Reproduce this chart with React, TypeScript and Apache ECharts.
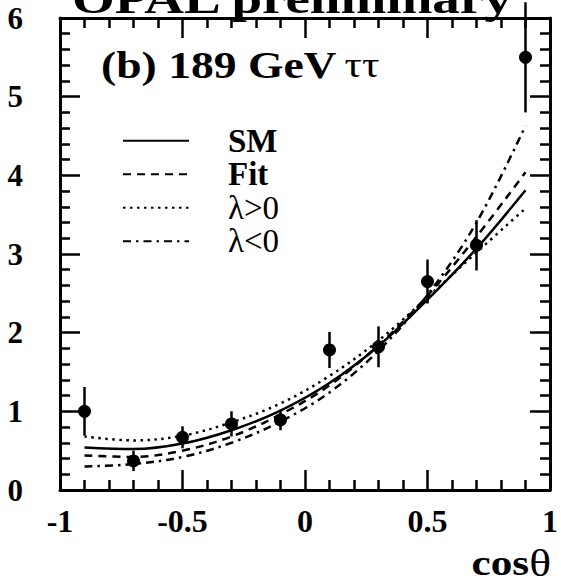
import React, { useEffect, useRef } from "react";
import * as echarts from "echarts";

// Measured data points (cos theta bins)
const cosTheta = [-0.9, -0.7, -0.5, -0.3, -0.1, 0.1, 0.3, 0.5, 0.7, 0.9];
const dataValues = [1.0, 0.37, 0.67, 0.84, 0.89, 1.78, 1.82, 2.65, 3.11, 5.5];
const dataErrors = [0.31, 0.13, 0.14, 0.16, 0.13, 0.23, 0.26, 0.28, 0.32, 0.7];

// Model curves read at the same cos theta values
const curveX = [-0.9, -0.7, -0.5, -0.3, -0.1, 0.1, 0.3, 0.5, 0.7, 0.9];
const smValues = [0.54, 0.52, 0.59, 0.76, 1.01, 1.36, 1.83, 2.42, 3.07, 3.81];
const fitValues = [0.44, 0.42, 0.5, 0.68, 0.96, 1.33, 1.84, 2.47, 3.22, 4.04];
const lamPosValues = [0.68, 0.63, 0.69, 0.86, 1.1, 1.45, 1.9, 2.45, 3.02, 3.58];
const lamNegValues = [0.3, 0.33, 0.42, 0.6, 0.87, 1.24, 1.77, 2.48, 3.4, 4.63];

const seriesNames = ["SM", "Fit", "λ>0", "λ<0"];

const SERIF = "'Liberation Serif', 'Times New Roman', serif";

function pair(xs: number[], ys: number[]) {
  return xs.map((x, i) => [x, ys[i]]);
}

export default function App() {
  const ref = useRef<HTMLDivElement>(null);

  useEffect(() => {
    if (!ref.current) return;
    const chart = echarts.init(ref.current, null, { renderer: "svg" });

    const axisCommon = {
      type: "value" as const,
      splitLine: { show: false },
      axisLine: { show: true, onZero: false, lineStyle: { color: "#000", width: 3 } },
      axisTick: { show: true, inside: true, length: 20, lineStyle: { color: "#000", width: 2.5 } },
      minorTick: { show: true, splitNumber: 5, length: 10, lineStyle: { color: "#000", width: 2.5 } },
    };

    const labelStyle = {
      fontFamily: SERIF,
      fontWeight: "bold" as const,
      fontSize: 32,
      color: "#000",
    };

    const lineSeries = (name: string, ys: number[], type: any) => ({
      name,
      type: "line",
      data: pair(curveX, ys),
      smooth: 0.35,
      symbol: "none",
      showSymbol: false,
      itemStyle: { color: "#000" },
      lineStyle: { color: "#000", width: 2.5, type },
      z: 2,
    });

    chart.setOption({
      animation: false,
      backgroundColor: "#fff",
      grid: { left: 60, right: 11, top: 18, bottom: 94, containLabel: false },
      xAxis: [
        {
          ...axisCommon,
          min: -1,
          max: 1,
          interval: 0.5,
          position: "bottom",
          axisLabel: { ...labelStyle, margin: 15 },
        },
        {
          ...axisCommon,
          min: -1,
          max: 1,
          interval: 0.5,
          position: "top",
          axisLabel: { show: false },
        },
      ],
      yAxis: [
        {
          ...axisCommon,
          min: 0,
          max: 6,
          interval: 1,
          position: "left",
          axisLabel: { ...labelStyle, fontSize: 31, margin: 37 },
        },
        {
          ...axisCommon,
          min: 0,
          max: 6,
          interval: 1,
          position: "right",
          axisLabel: { show: false },
        },
      ],
      legend: {
        data: seriesNames,
        orient: "vertical",
        left: 117,
        top: 119,
        itemWidth: 66,
        itemHeight: 20,
        itemGap: 0,
        selectedMode: false,
        itemStyle: { opacity: 0 },
        formatter: (name: string) =>
          name === "SM" || name === "Fit" ? `{b|${name}}` : `{n|${name}}`,
        textStyle: {
          color: "#000",
          fontFamily: SERIF,
          fontSize: 32,
          lineHeight: 33.5,
          padding: [0, 0, 0, 34],
          rich: {
            b: { fontFamily: SERIF, fontWeight: "bold", fontSize: 33, color: "#000", lineHeight: 33.5 },
            n: { fontFamily: SERIF, fontWeight: "normal", fontSize: 33, color: "#000", lineHeight: 33.5 },
          },
        },
      },
      series: [
        lineSeries("SM", smValues, "solid"),
        lineSeries("Fit", fitValues, [8, 6]),
        lineSeries("λ>0", lamPosValues, [2.5, 4.5]),
        lineSeries("λ<0", lamNegValues, [8, 5, 2.5, 5]),
        {
          name: "errors",
          type: "custom",
          clip: false,
          data: cosTheta.map((x, i) => [x, dataValues[i], dataErrors[i]]),
          renderItem: (params: any, api: any) => {
            const x = api.value(0);
            const y = api.value(1);
            const e = api.value(2);
            const p1 = api.coord([x, y + e]);
            const p2 = api.coord([x, y - e]);
            return {
              type: "line",
              shape: { x1: p1[0], y1: p1[1], x2: p2[0], y2: p2[1] },
              style: { stroke: "#000", lineWidth: 2.5 },
            };
          },
          z: 3,
        },
        {
          name: "data",
          type: "scatter",
          data: pair(cosTheta, dataValues),
          symbol: "circle",
          symbolSize: 13,
          itemStyle: { color: "#000", opacity: 1 },
          z: 4,
        },
      ],
      graphic: [
        {
          type: "text",
          x: 72,
          y: -1.5,
          scaleX: 1.28,
          style: {
            text: "OPAL preliminary",
            font: `bold 43px ${SERIF}`,
            fill: "#000",
            textAlign: "left",
            textVerticalAlign: "middle",
          },
          z: 10,
        },
        {
          type: "text",
          x: 101,
          y: 65,
          scaleX: 1.2,
          style: {
            text: "{b|(b) 189 GeV}  {n|ττ}",
            fill: "#000",
            textAlign: "left",
            textVerticalAlign: "middle",
            rich: {
              b: { fontFamily: SERIF, fontWeight: "bold", fontSize: 38, fill: "#000" },
              n: { fontFamily: SERIF, fontWeight: "normal", fontSize: 36, fill: "#000" },
            },
          },
          z: 10,
        },
        {
          type: "text",
          x: 551,
          y: 563,
          scaleX: 1.2,
          style: {
            text: "{b|cos}{n|θ}",
            fill: "#000",
            textAlign: "right",
            textVerticalAlign: "middle",
            rich: {
              b: { fontFamily: SERIF, fontWeight: "bold", fontSize: 36, fill: "#000" },
              n: { fontFamily: SERIF, fontWeight: "normal", fontSize: 38, fill: "#000" },
            },
          },
          z: 10,
        },
      ],
    });

    return () => {
      chart.dispose();
    };
  }, []);

  return (
    <div
      ref={ref}
      style={{ position: "fixed", left: 0, top: 0, width: 561, height: 584, background: "#fff" }}
    />
  );
}
